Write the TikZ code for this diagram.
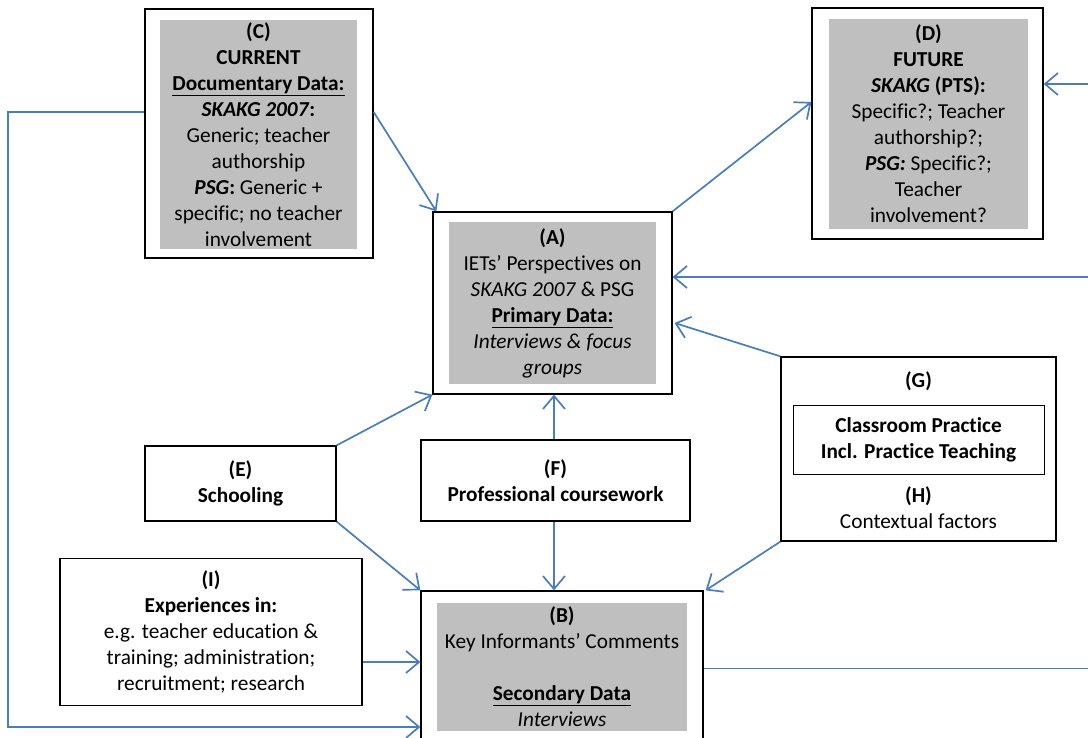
\documentclass[tikz,border=0pt]{standalone}
\usepackage{fontspec}
\setmainfont[Ligatures=NoCommon]{Carlito}
\usetikzlibrary{arrows.meta,calc}
\definecolor{connblue}{HTML}{4A7EBB}
\definecolor{boxgray}{HTML}{BFBFBF}
\newcommand{\diafont}{\fontsize{21.3}{26}\selectfont}
\tikzset{
  outerbox/.style={draw=black, line width=1.3pt, fill=white, minimum width=#1, inner sep=0pt},
  graybox/.style={fill=boxgray, inner sep=0pt, align=center, font=\diafont},
  plainbox/.style={draw=black, line width=1.3pt, fill=white, inner sep=0pt, align=center, font=\diafont},
  txt/.style={inner sep=0pt, align=center, font=\diafont},
  conn/.style={draw=connblue, line width=1.7pt, -{Straight Barb[length=13pt,width=22pt,line width=1.7pt]}},
  plainconn/.style={draw=connblue, line width=1.7pt}
}
\begin{document}
\begin{tikzpicture}[x=1pt,y=-1pt]
\clip (0,0) rectangle (1088,738);
\fill[white] (0,0) rectangle (1088,738);

% C
\node[outerbox=228pt, minimum height=249pt] (C) at (259,133.5) {};
\node[graybox, minimum width=197pt, minimum height=229pt] (Cg) at (258.5,134.5) {\textbf{(C)}\\\textbf{CURRENT}\\\underline{\textbf{Documentary Data:}}\\\textbf{\textit{SKAKG 2007}:}\\Generic; teacher\\authorship\\\textbf{\textit{PSG}:} Generic +\\specific; no teacher\\involvement};

% D
\node[outerbox=231pt, minimum height=231pt] (D) at (927.5,123.5) {};
\node[graybox, minimum width=199pt, minimum height=210pt] (Dg) at (928.5,124) {\textbf{(D)}\\\textbf{FUTURE}\\\textbf{\textit{SKAKG} (PTS):}\\Specific?; Teacher\\authorship?;\\\textbf{\textit{PSG:}} Specific?;\\Teacher\\involvement?};

% A
\node[outerbox=239pt, minimum height=182pt] (A) at (552.5,303) {};
\node[graybox, minimum width=207pt, minimum height=162pt] (Ag) at (552.5,303) {\textbf{(A)}\\IETs’ Perspectives on\\\textit{SKAKG 2007} \& PSG\\\underline{\textbf{Primary Data:}}\\\textit{Interviews \& focus}\\\textit{groups}};

% G / H
\node[outerbox=275pt, minimum height=184pt] (G) at (918.5,449) {};
\node[txt] (Gl) at (918.5,381) {\textbf{(G)}};
\node[draw=black, line width=0.9pt, minimum width=251pt, minimum height=69pt, inner sep=0pt, align=center, font=\diafont] (Gi) at (918.5,440) {\textbf{Classroom Practice}\\\textbf{Incl. Practice Teaching}};
\node[txt] (H) at (918.5,508) {\textbf{(H)}\\Contextual factors};

% E
\node[plainbox, minimum width=191pt, minimum height=75pt] (E) at (240.5,483.5) {\textbf{(E)}\\\textbf{Schooling}};
% F
\node[plainbox, minimum width=269pt, minimum height=81pt] (F) at (555.5,480.5) {\textbf{(F)}\\\textbf{Professional coursework}};
% I
\node[plainbox, minimum width=302pt, minimum height=147pt] (I) at (211,632) {\textbf{(I)}\\\textbf{Experiences in:}\\e.g. teacher education \&\\training; administration;\\recruitment; research};

% B
\node[outerbox=282pt, minimum height=155pt] (B) at (562,668.5) {};
\node[graybox, minimum width=250pt, minimum height=128pt] (Bg) at (562,667) {\textbf{(B)}\\Key Informants’ Comments\\[26pt]\underline{\textbf{Secondary Data}}\\\textit{Interviews}};

% edge coordinates
\coordinate (rD) at (1095,84);
\coordinate (rA) at (1095,277);
\coordinate (rB) at (1095,668.5);
\coordinate (lft) at (8,727);

% connectors
\draw[conn] ([yshift=21.5pt]C.east) -- ([xshift=4pt]A.north west);
\draw[conn] (A.north east) -- ([yshift=21.5pt]D.west);
\draw[conn] (rD) -- (rD -| D.east);
\draw[conn] (rA) -- (rA -| A.east);
\draw[conn] (G.north west) -- ([yshift=-20pt,xshift=2pt]A.east);
\draw[conn] (E.north east) -- (A.south west);
\draw[conn] ([xshift=-1.5pt]F.north) -- ([xshift=-1.5pt]F.north |- A.south);
\draw[conn] ([xshift=-1.5pt]F.south) -- ([xshift=-1.5pt]F.south |- B.north);
\draw[conn] (E.south east) -- (B.north west);
\draw[conn] (G.south west) -- ([xshift=2pt]B.north east);
\draw[conn] ([yshift=-30pt]I.east) -- ([yshift=-30pt]I.east -| B.west);
\draw[conn] ([yshift=21.5pt]C.west) -| (lft) -- (lft -| B.west);
\draw[plainconn] (B.east) -- (rB);
\end{tikzpicture}
\end{document}
